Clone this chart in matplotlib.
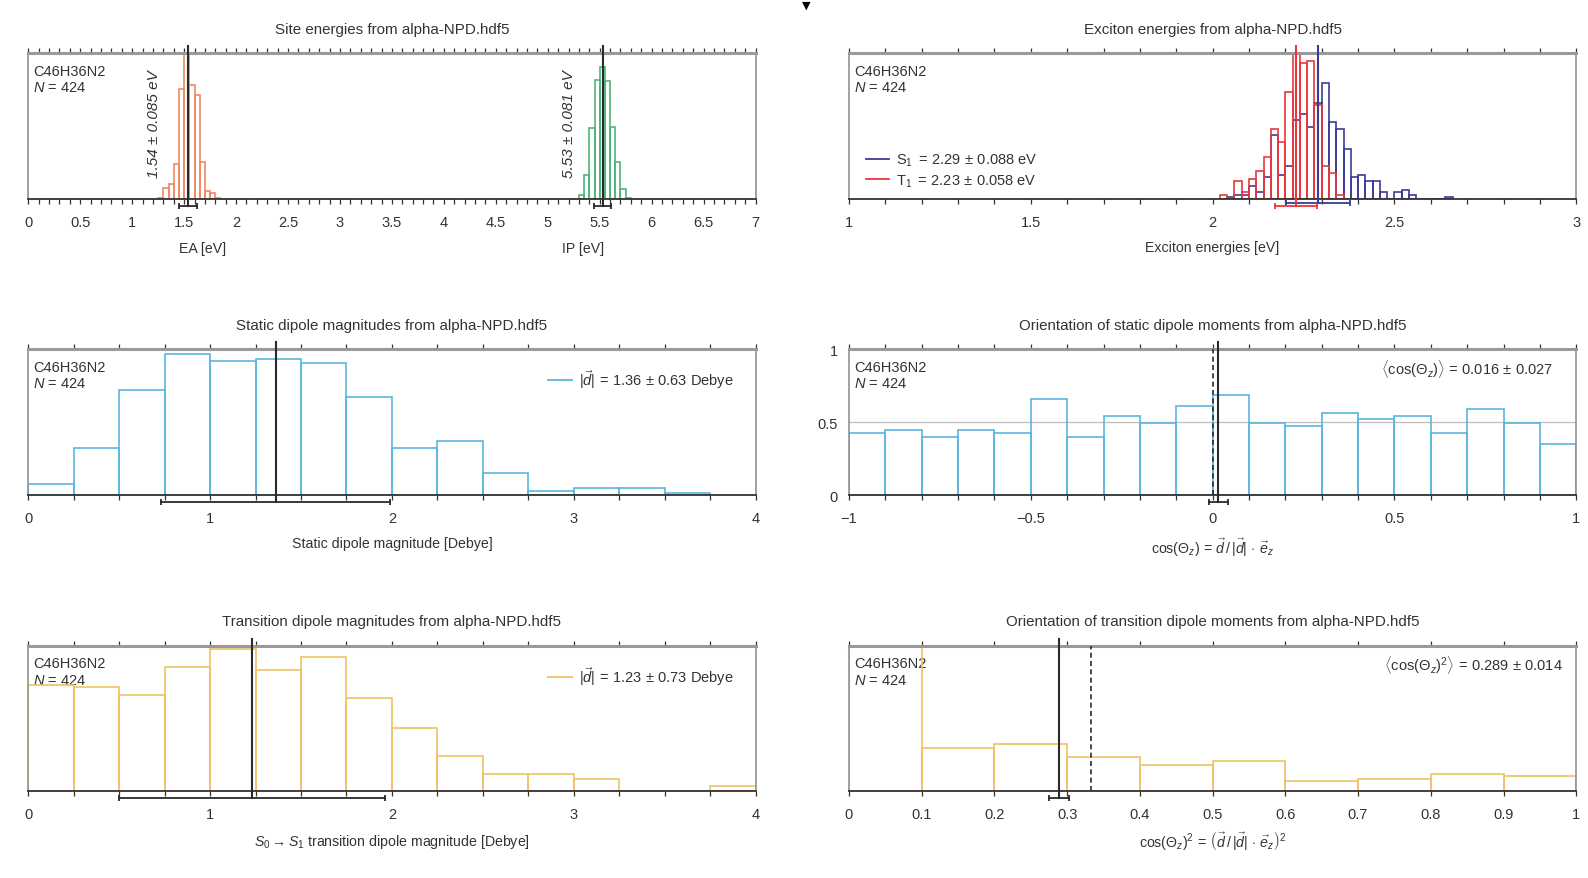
import numpy as np
import matplotlib
matplotlib.use("Agg")
import matplotlib.pyplot as plt
from matplotlib.ticker import MultipleLocator, FuncFormatter

plt.rcParams['font.family'] = ['Liberation Sans', 'DejaVu Sans']
plt.rcParams['font.size'] = 10.5
plt.rcParams['mathtext.fontset'] = 'custom'
plt.rcParams['mathtext.rm'] = 'Liberation Sans'
plt.rcParams['mathtext.it'] = 'Liberation Sans:italic'
plt.rcParams['mathtext.bf'] = 'Liberation Sans:bold'

formula = 'C46H36N2'
n_mol = 424
source = 'alpha-NPD.hdf5'

# site energies (0.05 eV bins)
ea_start, ea_width = 1.25, 0.05
ea_counts = [1, 8, 11, 25, 79, 105, 82, 75, 27, 6, 4, 1]
ea_mean, ea_std = 1.54, 0.085
ip_start, ip_width = 5.30, 0.05
ip_counts = [3, 17, 51, 86, 95, 85, 52, 27, 7, 1]
ip_mean, ip_std = 5.53, 0.081

# exciton energies (0.02 eV bins)
s1_start, s1_width = 2.04, 0.02
s1_counts = [1, 2, 2, 6, 3, 10, 29, 11, 15, 36, 39, 33, 44, 53, 35, 32,
             23, 10, 11, 8, 8, 3, 0, 3, 4, 2, 0, 0, 0, 0, 1]
s1_mean, s1_std = 2.29, 0.088
t1_start, t1_width = 2.02, 0.02
t1_counts = [2, 0, 8, 3, 9, 13, 19, 32, 26, 49, 66, 62, 63, 43, 15, 12, 2]
t1_mean, t1_std = 2.23, 0.058

# static dipole magnitudes (0.25 D bins)
stat_start, stat_width = 0.0, 0.25
stat_counts = [5, 21, 47, 63, 60, 61, 59, 44, 21, 24, 10, 2, 3, 3, 1]
stat_mean, stat_std = 1.36, 0.63

# orientation of static dipoles, cos(theta_z), 0.1 bins
cos_start, cos_width = -1.0, 0.1
cos_counts = [18, 19, 17, 19, 18, 28, 17, 23, 21, 26, 29, 21, 20, 24, 22,
              23, 18, 25, 21, 15]
cos_mean, cos_std = 0.016, 0.027

# transition dipole magnitudes (0.25 D bins)
tr_start, tr_width = 0.0, 0.25
tr_counts = [42, 41, 38, 49, 56, 48, 53, 37, 25, 14, 7, 7, 5, 0, 0, 2]
tr_mean, tr_std = 1.23, 0.73

# orientation of transition dipoles, cos^2(theta_z), 0.1 bins
cos2_start, cos2_width = 0.0, 0.1
cos2_counts = [161, 48, 53, 38, 29, 34, 11, 14, 19, 17]
cos2_mean, cos2_std = 0.289, 0.014

c_ea = '#ef8a62'
c_ip = '#4fb47a'
c_s1 = '#3b3b96'
c_t1 = '#e8383d'
c_stat = '#5ab6df'
c_tr = '#f0c264'
dark = '#2a2a2a'
txt = '#333333'
label_fs = 10.2
title_fs = 10.9


def fmt(v, pos):
    if abs(v) < 1e-9:
        return '0'
    return ('%g' % round(v, 6)).replace('-', '\u2212')


def hist(ax, start, width, counts, color):
    edges = start + width * np.arange(len(counts))
    ax.bar(edges, counts, width=width, align='edge', fill=False,
           edgecolor=color, linewidth=1.2, zorder=2)


def setup(ax, xlim, major, minor):
    ax.set_xlim(*xlim)
    ax.xaxis.set_major_locator(MultipleLocator(major))
    if minor:
        ax.xaxis.set_minor_locator(MultipleLocator(minor))
    ax.xaxis.set_major_formatter(FuncFormatter(fmt))
    ax.tick_params(axis='x', which='both', direction='out', top=True,
                   bottom=True, length=3.5, width=0.9, color='#333333',
                   pad=8, labelcolor=txt, labelsize=10.5)
    ax.tick_params(axis='y', left=False, labelleft=False)
    for s in ['left', 'right']:
        ax.spines[s].set_color('#8a8a8a')
        ax.spines[s].set_linewidth(1.1)
    ax.spines['top'].set_color('#9a9a9a')
    ax.spines['top'].set_linewidth(2.2)
    ax.spines['bottom'].set_color('#333333')
    ax.spines['bottom'].set_linewidth(1.3)
    ax.text(0.007, 0.93, formula + '\n$N$ = %d' % n_mol, transform=ax.transAxes,
            ha='left', va='top', color=txt, linespacing=1.25, zorder=1)


def titles(ax, title, xlabel=None, labelpad=8):
    ax.set_title(title, pad=15, color=txt, fontsize=title_fs)
    if xlabel:
        ax.set_xlabel(xlabel, labelpad=labelpad, color=txt, fontsize=label_fs)


def mean_marker(ax, mean, std, color=dark, ybar=-0.045):
    tr = ax.get_xaxis_transform()
    ax.plot([mean, mean], [ybar, 1.048], color=color, lw=1.5, transform=tr,
            clip_on=False, zorder=5)
    ax.plot([mean - std, mean + std], [ybar, ybar], color=color, lw=1.3,
            marker='|', ms=5, mew=1.3, transform=tr, clip_on=False, zorder=5)


def side_legend(ax, anchor, loc, spacing=0.5):
    leg = ax.legend(loc=loc, bbox_to_anchor=anchor, frameon=False,
                    borderaxespad=0, borderpad=0, handlelength=1.6,
                    handletextpad=0.5, labelspacing=spacing)
    for t in leg.get_texts():
        t.set_color(txt)


fig = plt.figure(figsize=(15.88, 8.79), dpi=100)
lefts = [0.0178, 0.5346]
bottoms = [0.7725, 0.4357, 0.0986]
w, h = 0.4580, 0.1656
axs = [[fig.add_axes([l, b, w, h]) for l in lefts] for b in bottoms]

# --- site energies
ax = axs[0][0]
setup(ax, (0, 7), 0.5, 0.1)
hist(ax, ea_start, ea_width, ea_counts, c_ea)
hist(ax, ip_start, ip_width, ip_counts, c_ip)
ax.set_ylim(0, max(ea_counts + ip_counts))
mean_marker(ax, ea_mean, ea_std)
mean_marker(ax, ip_mean, ip_std)
for m, s in [(ea_mean, ea_std), (ip_mean, ip_std)]:
    ax.text(m - 0.33, 0.52, '%.2f \u00b1 %.3f eV' % (m, s),
            rotation=90, ha='center', va='center', fontsize=11,
            style='italic', color=txt, transform=ax.get_xaxis_transform())
ax.text(0.24, -0.34, 'EA [eV]', transform=ax.transAxes, ha='center',
        va='center', color=txt, fontsize=label_fs)
ax.text(0.763, -0.34, 'IP [eV]', transform=ax.transAxes, ha='center',
        va='center', color=txt, fontsize=label_fs)
titles(ax, 'Site energies from ' + source)

# --- exciton energies
ax = axs[0][1]
setup(ax, (1, 3), 0.5, 0.1)
hist(ax, s1_start, s1_width, s1_counts, c_s1)
hist(ax, t1_start, t1_width, t1_counts, c_t1)
ax.set_ylim(0, max(t1_counts) * 1.007)
mean_marker(ax, s1_mean, s1_std, color=c_s1, ybar=-0.028)
mean_marker(ax, t1_mean, t1_std, color=c_t1, ybar=-0.045)
ax.plot([], [], color=c_s1, lw=1.3,
        label=r'S$_1$ $=\, %.2f \,\pm\, %.3f$ eV' % (s1_mean, s1_std))
ax.plot([], [], color=c_t1, lw=1.3,
        label=r'T$_1$ $=\, %.2f \,\pm\, %.3f$ eV' % (t1_mean, t1_std))
side_legend(ax, (0.023, 0.07), 'lower left', spacing=0.3)
titles(ax, 'Exciton energies from ' + source, 'Exciton energies [eV]')

# --- static dipole magnitudes
ax = axs[1][0]
setup(ax, (0, 4), 1, 0.25)
hist(ax, stat_start, stat_width, stat_counts, c_stat)
ax.set_ylim(0, max(stat_counts) * 1.035)
mean_marker(ax, stat_mean, stat_std)
ax.plot([], [], color=c_stat, lw=1.3,
        label=r'$|\vec{d}| \,=\, %.2f \,\pm\, %.2f$ Debye' % (stat_mean, stat_std))
side_legend(ax, (0.970, 0.875), 'upper right')
titles(ax, 'Static dipole magnitudes from ' + source,
       'Static dipole magnitude [Debye]')

# --- orientation of static dipoles
ax = axs[1][1]
setup(ax, (-1, 1), 0.5, 0.1)
dens = np.array(cos_counts) / (n_mol * cos_width)
hist(ax, cos_start, cos_width, dens, c_stat)
ax.set_ylim(0, 1)
ax.set_yticks([0, 0.5, 1])
ax.yaxis.set_major_formatter(FuncFormatter(fmt))
ax.tick_params(axis='y', left=True, labelleft=True, length=0, pad=8,
               labelcolor=txt, labelsize=10.5)
ax.axhline(0.5, color='#bdbdbd', lw=0.9, zorder=0)
ax.plot([0, 0], [0, 1], color=dark, lw=1.2, ls=(0, (3, 2)),
        transform=ax.get_xaxis_transform(), zorder=4)
mean_marker(ax, cos_mean, cos_std)
ax.text(0.968, 0.87, r'$\langle\cos(\Theta_z)\rangle \,=\, %.3f \,\pm\, %.3f$'
        % (cos_mean, cos_std), transform=ax.transAxes, ha='right',
        va='center', color=txt)
titles(ax, 'Orientation of static dipole moments from ' + source,
       r'$\cos(\Theta_z) \,=\, \vec{d}\,/\,|\vec{d}| \,\cdot\, \vec{e}_z$')

# --- transition dipole magnitudes
ax = axs[2][0]
setup(ax, (0, 4), 1, 0.25)
hist(ax, tr_start, tr_width, tr_counts, c_tr)
ax.set_ylim(0, max(tr_counts) * 1.025)
mean_marker(ax, tr_mean, tr_std)
ax.plot([], [], color=c_tr, lw=1.3,
        label=r'$|\vec{d}| \,=\, %.2f \,\pm\, %.2f$ Debye' % (tr_mean, tr_std))
side_legend(ax, (0.970, 0.875), 'upper right')
titles(ax, 'Transition dipole magnitudes from ' + source,
       r'$S_0 \rightarrow S_1$ transition dipole magnitude [Debye]')

# --- orientation of transition dipoles
ax = axs[2][1]
setup(ax, (0, 1), 0.1, None)
hist(ax, cos2_start, cos2_width, cos2_counts, c_tr)
ax.set_ylim(0, max(cos2_counts) * 1.01)
ax.plot([1 / 3, 1 / 3], [0, 1], color=dark, lw=1.2, ls=(0, (3, 2)),
        transform=ax.get_xaxis_transform(), zorder=4)
mean_marker(ax, cos2_mean, cos2_std)
ax.text(0.982, 0.875, r'$\langle\cos(\Theta_z)^2\rangle \,=\, %.3f \,\pm\, %.3f$'
        % (cos2_mean, cos2_std), transform=ax.transAxes, ha='right',
        va='center', color=txt)
titles(ax, 'Orientation of transition dipole moments from ' + source,
       r'$\cos(\Theta_z)^2 \,=\, \left(\vec{d}\,/\,|\vec{d}| \,\cdot\, \vec{e}_z\right)^2$',
       labelpad=6)

fig.text(806 / 1588, 0.999, '\u25bc', ha='center', va='top', fontsize=8,
         color='black', family='DejaVu Sans')

fig.savefig('out.png', dpi=100)
